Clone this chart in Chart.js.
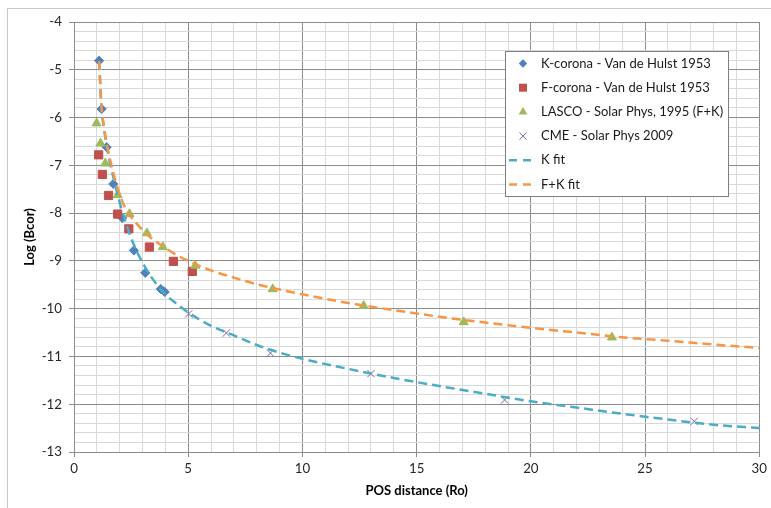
<!DOCTYPE html>
<html><head><meta charset="utf-8">
<script src="https://cdn.jsdelivr.net/npm/chart.js@4/dist/chart.umd.min.js"></script>
<style>html,body{margin:0;padding:0;background:#fff}#wrap{position:relative;width:771px;height:508px}</style>
</head><body><div id="wrap"><canvas id="c" width="771" height="508"></canvas></div>
<script>
// ---- data ----
const seriesLabels = ['K-corona - Van de Hulst 1953','F-corona - Van de Hulst 1953','LASCO - Solar Phys, 1995 (F+K)','CME - Solar Phys 2009','K fit','F+K fit'];
const kCoronaX = [1.10,1.21,1.43,1.72,2.11,2.62,3.12,3.80,3.97];
const kCoronaY = [-4.81,-5.82,-6.62,-7.39,-8.10,-8.78,-9.25,-9.59,-9.65];
const fCoronaX = [1.08,1.24,1.51,1.91,2.40,3.30,4.35,5.18];
const fCoronaY = [-6.78,-7.19,-7.63,-8.02,-8.33,-8.71,-9.01,-9.22];
const lascoX = [0.99,1.16,1.37,1.91,2.43,3.19,3.89,5.31,8.70,12.68,17.06,23.55];
const lascoY = [-6.12,-6.54,-6.96,-7.62,-8.02,-8.42,-8.71,-9.10,-9.59,-9.94,-10.28,-10.60];
const cmeX = [5.02,6.67,8.60,13.00,18.85,27.15];
const cmeY = [-10.11,-10.51,-10.93,-11.36,-11.91,-12.36];
const kFitX = [1.10,1.15,1.20,1.30,1.40,1.50,1.60,1.80,2.00,2.20,2.50,2.80,3.20,3.60,4.00,4.50,5.00,6.00,7.00,8.00,9.00,10.00,12.00,14.00,16.00,18.00,20.00,22.00,24.00,26.00,28.00,30.00];
const kFitY = [-4.82,-5.30,-5.78,-6.20,-6.50,-6.78,-7.00,-7.40,-7.78,-8.10,-8.52,-8.85,-9.20,-9.48,-9.70,-9.90,-10.08,-10.36,-10.56,-10.76,-10.92,-11.05,-11.26,-11.45,-11.62,-11.78,-11.94,-12.07,-12.20,-12.32,-12.43,-12.50];
const fkFitX = [1.10,1.20,1.30,1.40,1.50,1.60,1.80,2.00,2.20,2.50,2.80,3.20,3.60,4.00,4.50,5.00,6.00,7.00,8.00,9.00,10.00,12.00,14.00,16.00,18.00,20.00,22.00,24.00,26.00,28.00,30.00];
const fkFitY = [-4.82,-5.75,-6.15,-6.45,-6.70,-6.92,-7.30,-7.60,-7.85,-8.08,-8.25,-8.45,-8.60,-8.73,-8.88,-9.00,-9.20,-9.35,-9.49,-9.60,-9.70,-9.88,-10.03,-10.17,-10.29,-10.40,-10.50,-10.60,-10.67,-10.75,-10.82];
const xTitle = 'POS distance (Ro)';
const yTitle = 'Log (Bcor)';
const xMin = 0, xMax = 30, xStep = 1, xLabelEvery = 5;
const yMin = -13, yMax = -4, yStep = 0.2;

// ---- styling ----
const FONT = 'Lato, "Open Sans", sans-serif';
const MAJOR = '#8c8c8c', MINOR = '#d9d9d9';
const pts = (xs, ys) => xs.map((x, i) => ({x, y: ys[i]}));
const isInt = v => Math.abs(v - Math.round(v)) < 1e-6;

const datasets = [
  {label: seriesLabels[0], data: pts(kCoronaX, kCoronaY), pointStyle: 'rectRot', pointRadius: 4.6, backgroundColor: '#4F81BD', borderColor: '#4F81BD', borderWidth: 1, order: 6},
  {label: seriesLabels[1], data: pts(fCoronaX, fCoronaY), pointStyle: 'rect', pointRadius: 5.8, backgroundColor: '#C0504D', borderColor: '#C0504D', borderWidth: 1, order: 5},
  {label: seriesLabels[2], data: pts(lascoX, lascoY), pointStyle: 'triangle', pointRadius: 5.2, backgroundColor: '#9BBB59', borderColor: '#9BBB59', borderWidth: 1, order: 4},
  {label: seriesLabels[3], data: pts(cmeX, cmeY), pointStyle: 'crossRot', pointRadius: 5.2, backgroundColor: '#8064A2', borderColor: '#8064A2', borderWidth: 1, order: 3},
  {label: seriesLabels[4], data: pts(kFitX, kFitY), showLine: true, pointRadius: 0, borderColor: '#4BACC6', backgroundColor: '#4BACC6', borderWidth: 2.5, borderDash: [9, 5], cubicInterpolationMode: 'monotone', fill: false, order: 2},
  {label: seriesLabels[5], data: pts(fkFitX, fkFitY), showLine: true, pointRadius: 0, borderColor: '#F79646', backgroundColor: '#F79646', borderWidth: 2.5, borderDash: [9, 5], cubicInterpolationMode: 'monotone', fill: false, order: 1}
];

const framePlugin = {
  id: 'frame',
  beforeDraw(chart) {
    const ctx = chart.ctx;
    ctx.save();
    ctx.fillStyle = '#fff';
    ctx.fillRect(0, 0, chart.width, chart.height);
    ctx.strokeStyle = '#c8c8c8';
    ctx.lineWidth = 1;
    ctx.strokeRect(7.5, 8.5, 800, 600);
    ctx.restore();
  }
};

function drawMarker(ctx, style, x, y, color) {
  ctx.save();
  ctx.fillStyle = color; ctx.strokeStyle = color; ctx.lineWidth = 1;
  ctx.beginPath();
  if (style === 'rectRot') {
    const r = 4.2;
    ctx.moveTo(x, y - r); ctx.lineTo(x + r, y); ctx.lineTo(x, y + r); ctx.lineTo(x - r, y); ctx.closePath(); ctx.fill();
  } else if (style === 'rect') {
    ctx.rect(x - 4, y - 4, 8, 8); ctx.fill();
  } else if (style === 'triangle') {
    const r = 5;
    ctx.moveTo(x, y - r); ctx.lineTo(x + r * 0.866, y + r / 2); ctx.lineTo(x - r * 0.866, y + r / 2); ctx.closePath(); ctx.fill();
  } else if (style === 'crossRot') {
    const r = 3.6;
    ctx.moveTo(x - r, y - r); ctx.lineTo(x + r, y + r); ctx.moveTo(x + r, y - r); ctx.lineTo(x - r, y + r); ctx.stroke();
  }
  ctx.restore();
}

const legendPlugin = {
  id: 'boxLegend',
  afterDraw(chart) {
    const ctx = chart.ctx;
    ctx.save();
    const bx = 505.5, by = 51.5, bw = 223, bh = 145;
    ctx.fillStyle = '#fff';
    ctx.fillRect(bx, by, bw, bh);
    ctx.strokeStyle = '#7f7f7f';
    ctx.lineWidth = 1;
    ctx.strokeRect(bx, by, bw, bh);
    ctx.font = '13px ' + FONT;
    ctx.textBaseline = 'middle';
    ctx.textAlign = 'left';
    chart.data.datasets.forEach((ds, i) => {
      const y = 63.5 + i * 24.2;
      if (ds.showLine) {
        ctx.save();
        ctx.strokeStyle = ds.borderColor; ctx.lineWidth = 2.5;
        ctx.setLineDash([8, 6]);
        ctx.beginPath(); ctx.moveTo(509, y); ctx.lineTo(534, y); ctx.stroke();
        ctx.restore();
      } else {
        drawMarker(ctx, ds.pointStyle, 523, y, ds.backgroundColor);
      }
      ctx.fillStyle = '#1a1a1a';
      ctx.fillText(ds.label, 541, y);
    });
    ctx.restore();
  }
};

new Chart(document.getElementById('c'), {
  type: 'scatter',
  data: {datasets},
  plugins: [framePlugin, legendPlugin],
  options: {
    responsive: false,
    animation: false,
    devicePixelRatio: 1,
    layout: {padding: {top: 22, right: 10, left: 0, bottom: 0}},
    plugins: {legend: {display: false}, tooltip: {enabled: false}},
    scales: {
      x: {
        type: 'linear', min: xMin, max: xMax,
        afterFit: s => { s.height = 56; },
        border: {color: MAJOR, width: 1},
        grid: {
          color: c => (c.tick && c.tick.value % xLabelEvery === 0) ? MAJOR : MINOR,
          tickColor: c => (c.tick && c.tick.value % xLabelEvery === 0) ? MAJOR : 'rgba(0,0,0,0)',
          tickLength: 5, lineWidth: 1
        },
        ticks: {
          stepSize: xStep, autoSkip: false, maxRotation: 0, padding: 4,
          color: '#262626', font: {family: FONT, size: 13.3},
          callback: v => (v % xLabelEvery === 0) ? String(v) : ''
        },
        title: {display: true, text: xTitle, color: '#000', font: {family: FONT, size: 13, weight: 'bold'}, padding: {top: 0, bottom: 9}}
      },
      y: {
        type: 'linear', min: yMin, max: yMax,
        afterFit: s => { s.width = 74; },
        border: {color: MAJOR, width: 1},
        grid: {
          color: c => (c.tick && isInt(c.tick.value)) ? MAJOR : MINOR,
          tickColor: c => (c.tick && isInt(c.tick.value)) ? MAJOR : 'rgba(0,0,0,0)',
          tickLength: 5, lineWidth: 1
        },
        ticks: {
          stepSize: yStep, autoSkip: false, padding: 7,
          color: '#262626', font: {family: FONT, size: 13.3},
          callback: v => isInt(v) ? String(Math.round(v)) : ''
        },
        title: {display: true, text: yTitle, color: '#000', font: {family: FONT, size: 13, weight: 'bold'}, padding: {top: 22, bottom: 0}}
      }
    }
  }
});
</script>
</body></html>
